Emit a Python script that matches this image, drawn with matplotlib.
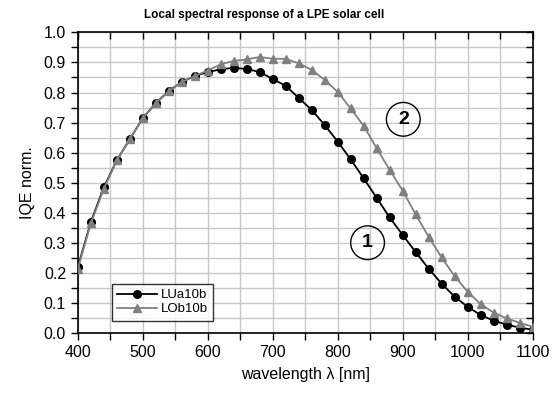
import matplotlib
matplotlib.use('Agg')
from matplotlib import pyplot as plt
from matplotlib.ticker import MultipleLocator
from matplotlib.patches import Ellipse

plt.rcParams['font.family'] = ['Liberation Sans', 'DejaVu Sans']

# wavelength in nm
wavelength = [400, 420, 440, 460, 480, 500, 520, 540, 560, 580, 600, 620,
              640, 660, 680, 700, 720, 740, 760, 780, 800, 820, 840, 860,
              880, 900, 920, 940, 960, 980, 1000, 1020, 1040, 1060, 1080, 1100]
LUa10b = [0.220, 0.370, 0.485, 0.575, 0.645, 0.715, 0.765, 0.805, 0.835, 0.855,
          0.868, 0.877, 0.882, 0.878, 0.868, 0.845, 0.822, 0.782, 0.742, 0.692,
          0.637, 0.578, 0.515, 0.450, 0.385, 0.327, 0.270, 0.215, 0.165, 0.122,
          0.088, 0.061, 0.042, 0.029, 0.019, 0.012]
LOb10b = [0.215, 0.365, 0.480, 0.575, 0.645, 0.715, 0.765, 0.805, 0.835, 0.855,
          0.873, 0.894, 0.905, 0.910, 0.918, 0.912, 0.912, 0.897, 0.875, 0.842,
          0.802, 0.747, 0.689, 0.615, 0.543, 0.474, 0.395, 0.321, 0.252, 0.190,
          0.138, 0.097, 0.069, 0.050, 0.035, 0.022]

fig = plt.figure(figsize=(5.6, 3.94), dpi=100)
ax = fig.add_axes([0.139, 0.154, 0.812, 0.764])

ax.plot(wavelength, LUa10b, color='black', lw=1.3, marker='o', ms=5.5,
        label='LUa10b', zorder=3)
ax.plot(wavelength, LOb10b, color='#808080', lw=1.3, marker='^', ms=6,
        label='LOb10b', zorder=4)

ax.set_xlim(400, 1100)
ax.set_ylim(0, 1.0)
ax.xaxis.set_major_locator(MultipleLocator(100))
ax.xaxis.set_minor_locator(MultipleLocator(50))
ax.yaxis.set_major_locator(MultipleLocator(0.1))
ax.yaxis.set_minor_locator(MultipleLocator(0.05))
ax.yaxis.set_major_formatter(matplotlib.ticker.FormatStrFormatter('%.1f'))

ax.grid(which='both', color='#c8c8c8', lw=1.0)
ax.set_axisbelow(True)

ax.tick_params(which='both', direction='out', length=5, width=1,
               labelsize=11.5, colors='black')
ax.tick_params(which='both', top=True, right=True)
# top and right ticks pointing inward
for t in ax.xaxis.get_major_ticks() + ax.xaxis.get_minor_ticks():
    t.tick2line.set_marker(matplotlib.lines.TICKDOWN)
for t in ax.yaxis.get_major_ticks() + ax.yaxis.get_minor_ticks():
    t.tick2line.set_marker(matplotlib.lines.TICKLEFT)
for s in ax.spines.values():
    s.set_linewidth(1.2)

ax.set_xlabel('wavelength λ [nm]', fontsize=11.5, labelpad=5)
ax.set_ylabel('IQE norm.', fontsize=11.5, labelpad=6)
fig.text(0.472, 0.962, 'Local spectral response of a LPE solar cell',
         ha='center', va='center', fontsize=8.5, fontweight='bold')

# circled curve numbers
for x, y, s in [(846, 0.301, '1'), (901, 0.711, '2')]:
    ax.add_patch(Ellipse((x, y), 52, 0.112, fill=False, ec='black', lw=1.0,
                         zorder=5))
    ax.text(x, y, s, ha='center', va='center', fontsize=14,
            fontweight='bold', zorder=6)

leg = ax.legend(loc='lower left', bbox_to_anchor=(0.075, 0.042), fontsize=9.5,
                frameon=True, fancybox=False, edgecolor='black',
                borderpad=0.4, handlelength=3.0, handletextpad=0.3,
                labelspacing=0.15, borderaxespad=0)
leg.get_frame().set_linewidth(1.0)

fig.savefig('out.png', dpi=100)
